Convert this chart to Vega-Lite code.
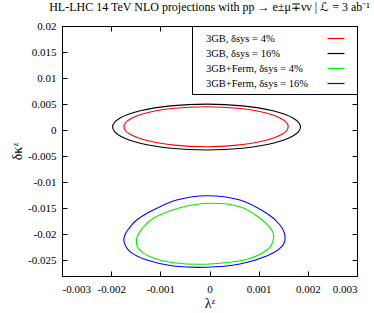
{
  "$schema": "https://vega.github.io/schema/vega-lite/v6.json",
  "width": 295,
  "height": 250,
  "autosize": "none",
  "padding": {"left": 62, "top": 26, "right": 17, "bottom": 37},
  "title": {"text": "HL-LHC 14 TeV NLO projections with pp → e±μ∓νν | ℒ = 3 ab⁻¹", "font": "Liberation Serif", "fontSize": 12, "fontWeight": "normal", "color": "black", "offset": 6, "anchor": "middle"},
  "config": {
    "view": {"stroke": "black", "strokeWidth": 1},
    "font": "Liberation Serif",
    "axis": {"grid": false, "domain": false, "tickSize": -5, "tickColor": "black", "tickWidth": 1, "labelFont": "Liberation Serif", "labelFontSize": 11, "labelColor": "black", "titleFont": "Liberation Serif", "titleFontSize": 14, "titleFontWeight": "normal", "titleColor": "black"}
  },
  "data": {"values": [
    {"series": "3GB, δsys = 4%", "order": 0, "x": 0.0016, "y": 0.00067},
    {"series": "3GB, δsys = 4%", "order": 1, "x": 0.001473, "y": 0.00214},
    {"series": "3GB, δsys = 4%", "order": 2, "x": 0.001111, "y": 0.003385},
    {"series": "3GB, δsys = 4%", "order": 3, "x": 0.000569, "y": 0.004218},
    {"series": "3GB, δsys = 4%", "order": 4, "x": -0.00007, "y": 0.00451},
    {"series": "3GB, δsys = 4%", "order": 5, "x": -0.000709, "y": 0.004218},
    {"series": "3GB, δsys = 4%", "order": 6, "x": -0.001251, "y": 0.003385},
    {"series": "3GB, δsys = 4%", "order": 7, "x": -0.001613, "y": 0.00214},
    {"series": "3GB, δsys = 4%", "order": 8, "x": -0.00174, "y": 0.00067},
    {"series": "3GB, δsys = 4%", "order": 9, "x": -0.001613, "y": -0.0008},
    {"series": "3GB, δsys = 4%", "order": 10, "x": -0.001251, "y": -0.002045},
    {"series": "3GB, δsys = 4%", "order": 11, "x": -0.000709, "y": -0.002878},
    {"series": "3GB, δsys = 4%", "order": 12, "x": -0.00007, "y": -0.00317},
    {"series": "3GB, δsys = 4%", "order": 13, "x": 0.000569, "y": -0.002878},
    {"series": "3GB, δsys = 4%", "order": 14, "x": 0.001111, "y": -0.002045},
    {"series": "3GB, δsys = 4%", "order": 15, "x": 0.001473, "y": -0.0008},
    {"series": "3GB, δsys = 16%", "order": 0, "x": 0.00185, "y": 0.0006},
    {"series": "3GB, δsys = 16%", "order": 1, "x": 0.001705, "y": 0.002284},
    {"series": "3GB, δsys = 16%", "order": 2, "x": 0.001291, "y": 0.003711},
    {"series": "3GB, δsys = 16%", "order": 3, "x": 0.000671, "y": 0.004665},
    {"series": "3GB, δsys = 16%", "order": 4, "x": -0.00006, "y": 0.005},
    {"series": "3GB, δsys = 16%", "order": 5, "x": -0.000791, "y": 0.004665},
    {"series": "3GB, δsys = 16%", "order": 6, "x": -0.001411, "y": 0.003711},
    {"series": "3GB, δsys = 16%", "order": 7, "x": -0.001825, "y": 0.002284},
    {"series": "3GB, δsys = 16%", "order": 8, "x": -0.00197, "y": 0.0006},
    {"series": "3GB, δsys = 16%", "order": 9, "x": -0.001825, "y": -0.001084},
    {"series": "3GB, δsys = 16%", "order": 10, "x": -0.001411, "y": -0.002511},
    {"series": "3GB, δsys = 16%", "order": 11, "x": -0.000791, "y": -0.003465},
    {"series": "3GB, δsys = 16%", "order": 12, "x": -0.00006, "y": -0.0038},
    {"series": "3GB, δsys = 16%", "order": 13, "x": 0.000671, "y": -0.003465},
    {"series": "3GB, δsys = 16%", "order": 14, "x": 0.001291, "y": -0.002511},
    {"series": "3GB, δsys = 16%", "order": 15, "x": 0.001705, "y": -0.001084},
    {"series": "3GB+Ferm, δsys = 4%", "order": 0, "x": 0.00001, "y": -0.01404},
    {"series": "3GB+Ferm, δsys = 4%", "order": 1, "x": 0.000621, "y": -0.0147},
    {"series": "3GB+Ferm, δsys = 4%", "order": 2, "x": 0.001027, "y": -0.01692},
    {"series": "3GB+Ferm, δsys = 4%", "order": 3, "x": 0.001265, "y": -0.01917},
    {"series": "3GB+Ferm, δsys = 4%", "order": 4, "x": 0.001298, "y": -0.02109},
    {"series": "3GB+Ferm, δsys = 4%", "order": 5, "x": 0.001164, "y": -0.02301},
    {"series": "3GB+Ferm, δsys = 4%", "order": 6, "x": 0.000757, "y": -0.02479},
    {"series": "3GB+Ferm, δsys = 4%", "order": 7, "x": 0.00001, "y": -0.0257},
    {"series": "3GB+Ferm, δsys = 4%", "order": 8, "x": -0.000736, "y": -0.02545},
    {"series": "3GB+Ferm, δsys = 4%", "order": 9, "x": -0.00121, "y": -0.02429},
    {"series": "3GB+Ferm, δsys = 4%", "order": 10, "x": -0.001448, "y": -0.02268},
    {"series": "3GB+Ferm, δsys = 4%", "order": 11, "x": -0.001481, "y": -0.02076},
    {"series": "3GB+Ferm, δsys = 4%", "order": 12, "x": -0.001379, "y": -0.01903},
    {"series": "3GB+Ferm, δsys = 4%", "order": 13, "x": -0.001143, "y": -0.01692},
    {"series": "3GB+Ferm, δsys = 4%", "order": 14, "x": -0.0006, "y": -0.01489},
    {"series": "3GB+Ferm, δsys = 16%", "order": 0, "x": -0.00006, "y": -0.01258},
    {"series": "3GB+Ferm, δsys = 16%", "order": 1, "x": 0.000621, "y": -0.01341},
    {"series": "3GB+Ferm, δsys = 16%", "order": 2, "x": 0.001164, "y": -0.01596},
    {"series": "3GB+Ferm, δsys = 16%", "order": 3, "x": 0.001434, "y": -0.01821},
    {"series": "3GB+Ferm, δsys = 16%", "order": 4, "x": 0.001536, "y": -0.02045},
    {"series": "3GB+Ferm, δsys = 16%", "order": 5, "x": 0.001469, "y": -0.02237},
    {"series": "3GB+Ferm, δsys = 16%", "order": 6, "x": 0.001164, "y": -0.02416},
    {"series": "3GB+Ferm, δsys = 16%", "order": 7, "x": 0.000621, "y": -0.0257},
    {"series": "3GB+Ferm, δsys = 16%", "order": 8, "x": -0.00006, "y": -0.02633},
    {"series": "3GB+Ferm, δsys = 16%", "order": 9, "x": -0.000736, "y": -0.02608},
    {"series": "3GB+Ferm, δsys = 16%", "order": 10, "x": -0.001277, "y": -0.02493},
    {"series": "3GB+Ferm, δsys = 16%", "order": 11, "x": -0.001617, "y": -0.02333},
    {"series": "3GB+Ferm, δsys = 16%", "order": 12, "x": -0.001739, "y": -0.02141},
    {"series": "3GB+Ferm, δsys = 16%", "order": 13, "x": -0.001719, "y": -0.02013},
    {"series": "3GB+Ferm, δsys = 16%", "order": 14, "x": -0.001651, "y": -0.01903},
    {"series": "3GB+Ferm, δsys = 16%", "order": 15, "x": -0.001481, "y": -0.01725},
    {"series": "3GB+Ferm, δsys = 16%", "order": 16, "x": -0.001143, "y": -0.01533},
    {"series": "3GB+Ferm, δsys = 16%", "order": 17, "x": -0.000667, "y": -0.01341}
  ]},
  "layer": [
    {
      "mark": {"type": "line", "interpolate": "cardinal-closed", "strokeWidth": 1.1},
      "encoding": {
        "x": {"field": "x", "type": "quantitative", "scale": {"domain": [-0.003, 0.003], "nice": false, "zero": false},
              "axis": {"orient": "bottom", "values": [-0.003, -0.002, -0.001, 0, 0.001, 0.002, 0.003], "labelExpr": "datum.value == 0 ? '0' : (datum.value < 0 ? '-' : '') + format(abs(datum.value), '~g')", "labelPadding": 12, "title": "λᶻ", "titlePadding": 2}},
        "y": {"field": "y", "type": "quantitative", "scale": {"domain": [-0.028, 0.02], "nice": false, "zero": false},
              "axis": {"orient": "left", "values": [-0.025, -0.02, -0.015, -0.01, -0.005, 0, 0.005, 0.01, 0.015, 0.02], "labelExpr": "datum.value == 0 ? '0' : (datum.value < 0 ? '-' : '') + format(abs(datum.value), '~g')", "labelPadding": 11, "title": "δκᶻ", "titlePadding": 3}},
        "color": {"field": "series", "type": "nominal",
                  "scale": {"domain": ["3GB, δsys = 4%", "3GB, δsys = 16%", "3GB+Ferm, δsys = 4%", "3GB+Ferm, δsys = 16%"], "range": ["#ff0000", "#000000", "#00ee00", "#0000ff"]},
                  "legend": {"orient": "top-right", "offset": 0, "title": null, "strokeColor": "black", "fillColor": "white", "padding": 5, "symbolType": "M-1.3,0H1.3M2.08,0", "symbolSize": 169, "symbolStrokeWidth": 1.2, "labelOffset": -137.5, "symbolOffset": 131.5, "rowPadding": 2, "labelFont": "Liberation Serif", "labelFontSize": 10.5, "labelColor": "black", "labelLimit": 200, "cornerRadius": 0}},
        "order": {"field": "order", "type": "quantitative"}
      }
    },
    {
      "mark": {"type": "point", "opacity": 0},
      "encoding": {
        "x": {"field": "x", "type": "quantitative", "axis": {"orient": "top", "values": [-0.003, -0.002, -0.001, 0, 0.001, 0.002, 0.003], "labels": false, "title": null}},
        "y": {"field": "y", "type": "quantitative", "axis": {"orient": "right", "values": [-0.025, -0.02, -0.015, -0.01, -0.005, 0, 0.005, 0.01, 0.015, 0.02], "labels": false, "title": null}}
      }
    }
  ],
  "resolve": {"axis": {"x": "independent", "y": "independent"}}
}
